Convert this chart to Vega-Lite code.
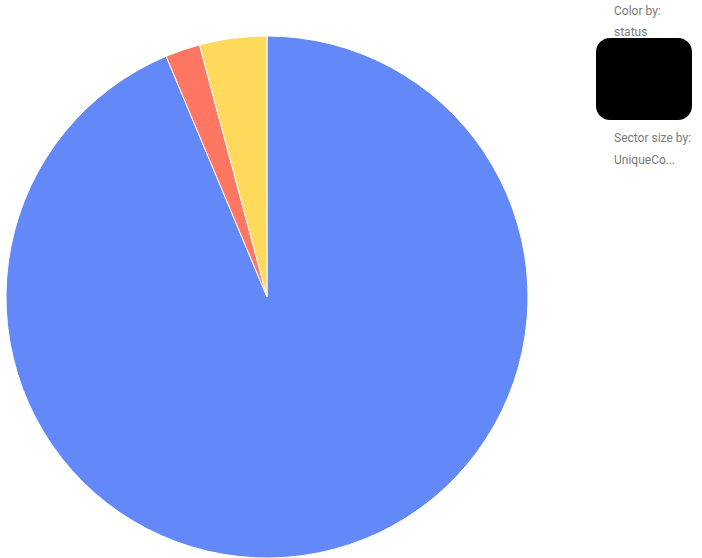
{
  "$schema": "https://vega.github.io/schema/vega-lite/v6.json",
  "width": 522,
  "height": 522,
  "autosize": "none",
  "padding": {"left": 6, "top": 36, "right": 174, "bottom": 0},
  "background": "white",
  "data": {
    "values": [
      {"status": "completed", "UniqueCount": 1350},
      {"status": "failed", "UniqueCount": 31},
      {"status": "pending", "UniqueCount": 60}
    ]
  },
  "title": {
    "text": ["Color by:", "status"],
    "subtitle": ["Sector size by:", "UniqueCo..."],
    "orient": "bottom",
    "anchor": "start",
    "frame": "group",
    "baseline": "top",
    "align": "left",
    "dx": 608,
    "offset": -554,
    "lineHeight": 21.3,
    "font": "Roboto",
    "fontSize": 12,
    "fontWeight": "normal",
    "color": "#7a7a7a",
    "subtitleFont": "Roboto",
    "subtitleFontSize": 12,
    "subtitleFontWeight": "normal",
    "subtitleColor": "#7a7a7a",
    "subtitleLineHeight": 21.3,
    "subtitlePadding": 94
  },
  "mark": {"type": "arc", "stroke": "white", "strokeWidth": 1},
  "encoding": {
    "theta": {"field": "UniqueCount", "type": "quantitative", "stack": true},
    "color": {
      "field": "status",
      "type": "nominal",
      "scale": {"domain": ["completed", "failed", "pending"], "range": ["#6388f8", "#ff7763", "#ffd95c"]},
      "legend": {
        "orient": "none",
        "legendX": 590,
        "legendY": 2,
        "title": null,
        "fillColor": "#000000",
        "cornerRadius": 14,
        "padding": 16,
        "labelColor": "#000000",
        "labelFont": "Roboto",
        "labelFontSize": 12,
        "labelLimit": 50,
        "symbolOpacity": 0,
        "symbolStrokeWidth": 0,
        "rowPadding": 7
      }
    }
  },
  "config": {"view": {"stroke": null}}
}
